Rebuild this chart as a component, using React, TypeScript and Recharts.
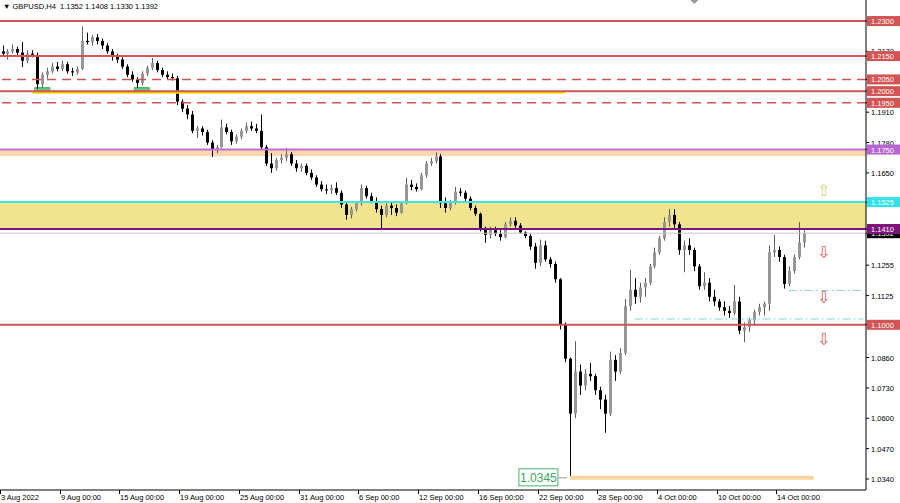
import { ComposedChart, Bar, XAxis, YAxis, ReferenceLine, ReferenceArea, ReferenceDot } from 'recharts';

type Ohlc = [number, number, number, number];

// 8-hour candles (3 per trading day), open / high / low / close
const augBars: Ohlc[] = [
  [1.2170, 1.2195, 1.2150, 1.2160], [1.2160, 1.2180, 1.2135, 1.2170], [1.2170, 1.2200, 1.2160, 1.2180],
  [1.2180, 1.2190, 1.2150, 1.2165], [1.2165, 1.2210, 1.2103, 1.2130], [1.2130, 1.2175, 1.2120, 1.2160],
  [1.2160, 1.2175, 1.2145, 1.2155], [1.2155, 1.2165, 1.2010, 1.2030], [1.2030, 1.2080, 1.2015, 1.2070],
  [1.2070, 1.2100, 1.2055, 1.2085], [1.2085, 1.2120, 1.2075, 1.2105], [1.2105, 1.2125, 1.2085, 1.2095],
  [1.2095, 1.2130, 1.2085, 1.2115], [1.2115, 1.2125, 1.2075, 1.2085], [1.2085, 1.2100, 1.2065, 1.2080],
  [1.2080, 1.2105, 1.2070, 1.2095], [1.2095, 1.2276, 1.2090, 1.2215], [1.2215, 1.2250, 1.2200, 1.2210],
  [1.2210, 1.2240, 1.2195, 1.2230], [1.2230, 1.2245, 1.2200, 1.2215], [1.2215, 1.2225, 1.2180, 1.2195],
  [1.2195, 1.2205, 1.2160, 1.2170], [1.2170, 1.2180, 1.2130, 1.2150], [1.2150, 1.2160, 1.2120, 1.2135],
  [1.2135, 1.2145, 1.2095, 1.2105], [1.2105, 1.2115, 1.2060, 1.2070], [1.2070, 1.2085, 1.2040, 1.2050],
  [1.2050, 1.2060, 1.2013, 1.2035], [1.2035, 1.2085, 1.2025, 1.2075], [1.2075, 1.2110, 1.2065, 1.2100],
  [1.2100, 1.2142, 1.2090, 1.2120], [1.2120, 1.2130, 1.2080, 1.2090], [1.2090, 1.2100, 1.2060, 1.2070],
  [1.2070, 1.2085, 1.2050, 1.2060], [1.2060, 1.2075, 1.2045, 1.2055], [1.2055, 1.2065, 1.1940, 1.1955],
  [1.1955, 1.1965, 1.1910, 1.1925], [1.1925, 1.1940, 1.1880, 1.1900], [1.1900, 1.1915, 1.1820, 1.1830],
  [1.1830, 1.1850, 1.1800, 1.1840], [1.1840, 1.1850, 1.1810, 1.1825], [1.1825, 1.1835, 1.1770, 1.1780],
  [1.1780, 1.1790, 1.1718, 1.1750], [1.1750, 1.1770, 1.1735, 1.1760], [1.1760, 1.1878, 1.1755, 1.1845],
  [1.1845, 1.1860, 1.1815, 1.1825], [1.1825, 1.1835, 1.1770, 1.1785], [1.1785, 1.1815, 1.1775, 1.1805],
  [1.1805, 1.1840, 1.1795, 1.1830], [1.1830, 1.1865, 1.1820, 1.1850], [1.1850, 1.1870, 1.1830, 1.1840],
  [1.1840, 1.1860, 1.1820, 1.1830], [1.1830, 1.1900, 1.1750, 1.1760], [1.1760, 1.1770, 1.1680, 1.1690],
  [1.1690, 1.1735, 1.1650, 1.1670], [1.1670, 1.1715, 1.1660, 1.1705], [1.1705, 1.1730, 1.1690, 1.1715],
  [1.1715, 1.1757, 1.1700, 1.1730], [1.1730, 1.1740, 1.1680, 1.1690], [1.1690, 1.1705, 1.1655, 1.1670],
  [1.1670, 1.1690, 1.1655, 1.1680], [1.1680, 1.1690, 1.1640, 1.1650], [1.1650, 1.1665, 1.1620, 1.1630],
];

const sepBars: Ohlc[] = [
  [1.1630, 1.1640, 1.1590, 1.1600], [1.1600, 1.1615, 1.1570, 1.1580], [1.1580, 1.1600, 1.1560, 1.1575],
  [1.1575, 1.1600, 1.1560, 1.1585], [1.1585, 1.1610, 1.1555, 1.1565], [1.1565, 1.1575, 1.1500, 1.1515],
  [1.1515, 1.1525, 1.1450, 1.1470], [1.1470, 1.1505, 1.1455, 1.1495], [1.1495, 1.1530, 1.1485, 1.1520],
  [1.1520, 1.1600, 1.1510, 1.1585], [1.1585, 1.1595, 1.1540, 1.1550], [1.1550, 1.1565, 1.1520, 1.1530],
  [1.1530, 1.1545, 1.1480, 1.1495], [1.1495, 1.1510, 1.1410, 1.1470], [1.1470, 1.1520, 1.1460, 1.1510],
  [1.1510, 1.1525, 1.1470, 1.1500], [1.1500, 1.1515, 1.1465, 1.1480], [1.1480, 1.1530, 1.1475, 1.1520],
  [1.1520, 1.1630, 1.1515, 1.1600], [1.1600, 1.1620, 1.1575, 1.1590], [1.1590, 1.1605, 1.1570, 1.1580],
  [1.1580, 1.1650, 1.1575, 1.1640], [1.1640, 1.1700, 1.1630, 1.1690], [1.1690, 1.1715, 1.1680, 1.1700],
  [1.1700, 1.1738, 1.1690, 1.1720], [1.1720, 1.1730, 1.1500, 1.1520], [1.1520, 1.1545, 1.1480, 1.1500],
  [1.1500, 1.1535, 1.1490, 1.1525], [1.1525, 1.1590, 1.1515, 1.1570], [1.1570, 1.1585, 1.1550, 1.1565],
  [1.1565, 1.1575, 1.1530, 1.1540], [1.1540, 1.1550, 1.1490, 1.1500], [1.1500, 1.1510, 1.1465, 1.1475],
  [1.1475, 1.1480, 1.1400, 1.1410], [1.1410, 1.1420, 1.1351, 1.1385], [1.1385, 1.1420, 1.1370, 1.1405],
  [1.1405, 1.1420, 1.1380, 1.1390], [1.1390, 1.1405, 1.1360, 1.1375], [1.1375, 1.1440, 1.1370, 1.1430],
  [1.1430, 1.1460, 1.1420, 1.1445], [1.1445, 1.1460, 1.1415, 1.1425], [1.1425, 1.1435, 1.1390, 1.1395],
  [1.1395, 1.1400, 1.1370, 1.1380], [1.1380, 1.1390, 1.1320, 1.1335], [1.1335, 1.1350, 1.1240, 1.1265],
  [1.1265, 1.1365, 1.1250, 1.1340], [1.1340, 1.1360, 1.1270, 1.1280], [1.1280, 1.1290, 1.1245, 1.1260],
  [1.1260, 1.1270, 1.1180, 1.1195], [1.1195, 1.1200, 1.0980, 1.1000], [1.1000, 1.1010, 1.0840, 1.0855],
  [1.0855, 1.0860, 1.0345, 1.0620], [1.0620, 1.0930, 1.0600, 1.0800], [1.0800, 1.0830, 1.0700, 1.0740],
  [1.0740, 1.0810, 1.0720, 1.0790], [1.0790, 1.0836, 1.0760, 1.0780], [1.0780, 1.0790, 1.0700, 1.0720],
  [1.0720, 1.0735, 1.0640, 1.0680], [1.0680, 1.0700, 1.0538, 1.0620], [1.0620, 1.0885, 1.0610, 1.0850],
  [1.0850, 1.0870, 1.0760, 1.0800], [1.0800, 1.0900, 1.0790, 1.0880], [1.0880, 1.1110, 1.0870, 1.1080],
  [1.1080, 1.1235, 1.1060, 1.1150], [1.1150, 1.1200, 1.1090, 1.1120], [1.1120, 1.1180, 1.1095, 1.1160],
];

const octBars: Ohlc[] = [
  [1.1160, 1.1200, 1.1120, 1.1180], [1.1180, 1.1260, 1.1170, 1.1250], [1.1250, 1.1330, 1.1240, 1.1310],
  [1.1310, 1.1380, 1.1300, 1.1370], [1.1370, 1.1460, 1.1360, 1.1440], [1.1440, 1.1495, 1.1420, 1.1470],
  [1.1470, 1.1495, 1.1410, 1.1430], [1.1430, 1.1440, 1.1300, 1.1320], [1.1320, 1.1360, 1.1225, 1.1340],
  [1.1340, 1.1370, 1.1300, 1.1320], [1.1320, 1.1330, 1.1230, 1.1250], [1.1250, 1.1260, 1.1150, 1.1165],
  [1.1165, 1.1225, 1.1150, 1.1180], [1.1180, 1.1200, 1.1100, 1.1120], [1.1120, 1.1150, 1.1080, 1.1100],
  [1.1100, 1.1110, 1.1060, 1.1075], [1.1075, 1.1100, 1.1040, 1.1060], [1.1060, 1.1080, 1.1030, 1.1050],
  [1.1050, 1.1170, 1.1040, 1.1100], [1.1100, 1.1120, 1.0960, 1.0975], [1.0975, 1.1010, 1.0925, 1.0990],
  [1.0990, 1.1030, 1.0970, 1.1020], [1.1020, 1.1065, 1.1000, 1.1055], [1.1055, 1.1090, 1.1040, 1.1075],
  [1.1075, 1.1100, 1.1040, 1.1090], [1.1090, 1.1340, 1.1060, 1.1310], [1.1310, 1.1384, 1.1290, 1.1320],
  [1.1320, 1.1335, 1.1270, 1.1290], [1.1290, 1.1300, 1.1155, 1.1175], [1.1175, 1.1250, 1.1165, 1.1230],
  [1.1230, 1.1300, 1.1220, 1.1290], [1.1290, 1.1440, 1.1280, 1.1352], [1.1352, 1.1408, 1.1330, 1.1392],
];

const tickIdx = [0, 12, 24, 36, 48, 60, 72, 84, 96, 108, 120, 132, 144, 156];
const tickLabels = [
  '3 Aug 2022', '9 Aug 00:00', '15 Aug 00:00', '19 Aug 00:00', '25 Aug 00:00', '31 Aug 00:00', '6 Sep 00:00',
  '12 Sep 00:00', '16 Sep 00:00', '22 Sep 00:00', '28 Sep 00:00', '4 Oct 00:00', '10 Oct 00:00', '14 Oct 00:00',
];

const priceTicks = [1.217, 1.191, 1.178, 1.165, 1.1255, 1.1125, 1.086, 1.073, 1.06, 1.047, 1.034];
const redLevels = [1.23, 1.215, 1.2, 1.1];
const redDashed = [1.205, 1.195];
const violetLevel = 1.175;
const cyanLevel = 1.1525;
const purpleLevel = 1.141;
const bidPrice = 1.1392;
const lowPrice = 1.0345;
const header = 'GBPUSD,H4  1.1352 1.1408 1.1330 1.1392';

// layout
const W = 900;
const H = 503;
const PLOT_W = 866;
const PLOT_H = 490;
const EMPTY_SLOTS = 12;
const FONT = 'Liberation Sans, Arial, sans-serif';

const allBars = [...augBars, ...sepBars, ...octBars];
const SLOTS = allBars.length + EMPTY_SLOTS;
const BAND = PLOT_W / SLOTS;

const data = [
  ...allBars.map(([o, h, l, c], i) => ({ i, o, h, l, c, range: [l, h] })),
  ...Array.from({ length: EMPTY_SLOTS }, (_, k) => ({ i: allBars.length + k, range: null })),
];

const RED = '#d25454';
const tagColors: Record<string, string> = {
  '1.2300': RED, '1.2150': RED, '1.2050': RED, '1.2000': RED, '1.1950': RED, '1.1000': RED,
  '1.1750': '#b765d2', '1.1525': '#2fe3ea', '1.1392': '#000000', '1.1410': '#7d137d',
};
const tagValues = [1.23, 1.215, 1.205, 1.2, 1.195, 1.175, 1.1525, 1.1392, 1.141, 1.1];

const Candle = (props: any) => {
  const { x, y, width, height, payload } = props;
  if (!payload || payload.h == null) return null;
  const { o, h, l, c } = payload;
  const k = height / (h - l || 1);
  const cx = Math.round(x + width / 2);
  const yo = y + (h - o) * k;
  const yc = y + (h - c) * k;
  const up = c >= o;
  const top = Math.min(yo, yc);
  const bh = Math.max(1, Math.abs(yc - yo));
  return (
    <g>
      <line x1={cx + 0.5} x2={cx + 0.5} y1={y} y2={y + height} stroke={up ? '#5e5e5e' : '#000'} strokeWidth={1} />
      <rect x={cx - 1} y={top} width={3} height={bh} fill={up ? '#979797' : '#000'} />
    </g>
  );
};

const PriceTick = (props: any) => {
  const { x, y, payload } = props;
  const txt = Number(payload.value).toFixed(4);
  const bg = tagColors[txt];
  if (bg) {
    return (
      <g>
        <rect x={x - 4} y={y - 5} width={34} height={10} fill={bg} />
        <text x={x} y={y + 3} fontSize={7.5} fill="#fff" fontFamily={FONT}>{txt}</text>
      </g>
    );
  }
  return <text x={x} y={y + 3} fontSize={7.5} fill="#000" fontFamily={FONT}>{txt}</text>;
};

const TimeTick = (props: any) => {
  const { x, payload } = props;
  const left = Math.round(x - BAND / 2);
  const label = tickLabels[tickIdx.indexOf(payload.value)];
  return (
    <g>
      <line x1={left + 0.5} x2={left + 0.5} y1={PLOT_H} y2={PLOT_H + 4} stroke="#000" />
      <text x={left + 1} y={PLOT_H + 10} fontSize={7.5} fill="#000" fontFamily={FONT}>{label}</text>
    </g>
  );
};

const arrow = (ch: string, color: string) => (p: any) => (
  <text x={p.cx} y={p.cy} textAnchor="middle" dominantBaseline="central" fontSize={16} fill={color} fontFamily="DejaVu Sans">{ch}</text>
);

const LowTag = (p: any) => (
  <g>
    <line x1={p.cx - 7} x2={p.cx + 2} y1={p.cy} y2={p.cy} stroke="#999" />
    <rect x={p.cx - 46} y={p.cy - 9} width={39} height={17} fill="#fff" stroke="#4cb26c" />
    <text x={p.cx - 26.5} y={p.cy + 4.5} textAnchor="middle" fontSize={12} fill="#3aa860" fontFamily={FONT}>{lowPrice.toFixed(4)}</text>
  </g>
);

const ShiftMark = (p: any) => (
  <polygon points={`${p.cx - 4},0 ${p.cx + 4},0 ${p.cx},4`} fill="#9a9a9a" />
);

export default function App() {
  return (
    <div style={{ position: 'absolute', left: 0, top: 0, width: W, height: H, background: '#fff' }}>
      <ComposedChart width={W} height={H} data={data} margin={{ top: 0, right: 0, bottom: 0, left: 0 }} barCategoryGap={0} barGap={0}>
        <XAxis dataKey="i" type="category" ticks={tickIdx} interval={0} tick={<TimeTick />} tickLine={false} axisLine={{ stroke: '#000' }} height={H - PLOT_H} />
        <YAxis orientation="right" type="number" domain={[1.0293, 1.239]} allowDataOverflow width={W - PLOT_W}
          ticks={[...priceTicks, ...tagValues]} interval={0} tick={<PriceTick />} tickSize={3} tickMargin={2}
          tickLine={{ stroke: '#000' }} axisLine={{ stroke: '#000' }} />

        <ReferenceArea y1={purpleLevel} y2={cyanLevel} fill="#f1e48f" fillOpacity={1} stroke="none" />
        <ReferenceArea y1={1.1721} y2={violetLevel} fill="#fbd6ae" fillOpacity={1} stroke="none" />

        <Bar dataKey="range" shape={<Candle />} isAnimationActive={false} />

        {redDashed.map(v => (
          <ReferenceLine key={`d${v}`} y={v} stroke={RED} strokeWidth={1.4} strokeDasharray="9 6" />
        ))}
        <ReferenceLine segment={[{ x: 6, y: 1.1995 }, { x: 113, y: 1.1995 }]} stroke="#ffe000" strokeWidth={3} />
        {redLevels.map(v => (
          <ReferenceLine key={`r${v}`} y={v} stroke={RED} strokeWidth={2} />
        ))}
        <ReferenceArea x1={7} x2={9} y1={1.1998} y2={1.2015} fill="#66c47e" fillOpacity={1} stroke="#4aa862" />
        <ReferenceArea x1={27} x2={29} y1={1.1998} y2={1.2015} fill="#66c47e" fillOpacity={1} stroke="#4aa862" />
        <ReferenceLine y={violetLevel} stroke="#c56ad6" strokeWidth={2} />
        <ReferenceLine y={cyanLevel} stroke="#3fe6e6" strokeWidth={2} />
        <ReferenceLine y={bidPrice} stroke="#c8c8c8" strokeWidth={1} />
        <ReferenceLine y={purpleLevel} stroke="#7d137d" strokeWidth={2} />
        <ReferenceLine segment={[{ x: 158, y: 1.1147 }, { x: 173, y: 1.1147 }]} stroke="#86d4d4" strokeWidth={1} strokeDasharray="8 3 2 3" />
        <ReferenceLine segment={[{ x: 127, y: 1.1025 }, { x: 173, y: 1.1025 }]} stroke="#86d4d4" strokeWidth={1} strokeDasharray="8 3 2 3" />
        <ReferenceLine segment={[{ x: 114, y: lowPrice }, { x: 163, y: lowPrice }]} stroke="#f8d59e" strokeWidth={4} />

        <ReferenceDot x={113} y={lowPrice} shape={LowTag} />
        <ReferenceDot x={165} y={1.1573} shape={arrow('⇧', '#c2d86a')} />
        <ReferenceDot x={165} y={1.1311} shape={arrow('⇩', '#e05a5a')} />
        <ReferenceDot x={165} y={1.1115} shape={arrow('⇩', '#e05a5a')} />
        <ReferenceDot x={165} y={1.0935} shape={arrow('⇩', '#e05a5a')} />
        <ReferenceDot x={139} y={1.2388} shape={ShiftMark} />
      </ComposedChart>
      <div style={{ position: 'absolute', left: 3, top: 1, fontFamily: FONT, fontSize: 7.5, color: '#000', whiteSpace: 'pre', lineHeight: '12px' }}>
        {'▼ ' + header}
      </div>
    </div>
  );
}
